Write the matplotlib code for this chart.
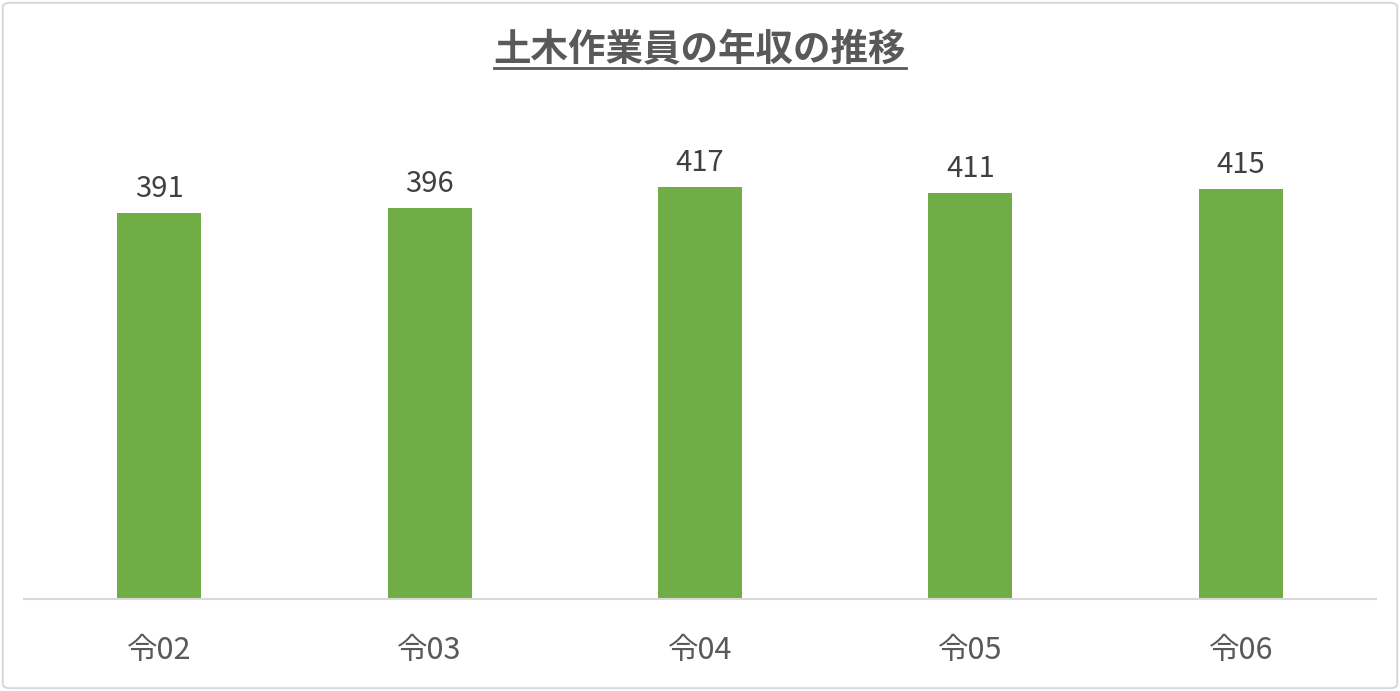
import matplotlib
matplotlib.use("Agg")
import matplotlib.pyplot as plt
from matplotlib.patches import FancyBboxPatch
from matplotlib.lines import Line2D

# data
years = ["令02", "令03", "令04", "令05", "令06"]
income = [391, 396, 417, 411, 415]

plt.rcParams['font.family'] = ['Noto Sans CJK JP', 'DejaVu Sans']

TEXT_COLOR = "#595959"
BAR_COLOR = "#70AD47"

fig = plt.figure(figsize=(14, 6.91), dpi=100)

# outer frame
frame = FancyBboxPatch((0.002, 0.004), 0.996, 0.992,
                       boxstyle="round,pad=0,rounding_size=0.006",
                       transform=fig.transFigure, facecolor="none",
                       edgecolor="#D9D9D9", linewidth=1.5, zorder=-1)
fig.patches.append(frame)

ax = fig.add_axes([24 / 1400, 1 - 599 / 691, 1352 / 1400, 494 / 691])
ax.set_facecolor("none")

x = range(len(years))
bars = ax.bar(x, income, width=0.311, color=BAR_COLOR, zorder=2)

for b, v in zip(bars, income):
    ax.text(b.get_x() + b.get_width() / 2, v + 16, str(v),
            ha="center", va="baseline", fontsize=21, color="#404040")

ax.set_xlim(-0.5, len(years) - 0.5)
ax.set_ylim(0, 500)
ax.set_xticks(list(x))
ax.set_xticklabels(years, fontsize=22, color=TEXT_COLOR)
ax.tick_params(axis="x", length=0, pad=26)
ax.set_yticks([])
for s in ["top", "right", "left"]:
    ax.spines[s].set_visible(False)
ax.spines["bottom"].set_color("#D9D9D9")
ax.spines["bottom"].set_linewidth(1.5)

# title with underline
title = fig.text(0.5, 1 - 49 / 691, "土木作業員の年収の推移", ha="center", va="center",
                 fontsize=27, fontweight="bold", color=TEXT_COLOR)
fig.canvas.draw()
bb = title.get_window_extent().transformed(fig.transFigure.inverted())
uy = 1 - 68 / 691
fig.add_artist(Line2D([bb.x0, bb.x1], [uy, uy], transform=fig.transFigure,
                      color=TEXT_COLOR, linewidth=2))

fig.savefig("out.png", dpi=100)
